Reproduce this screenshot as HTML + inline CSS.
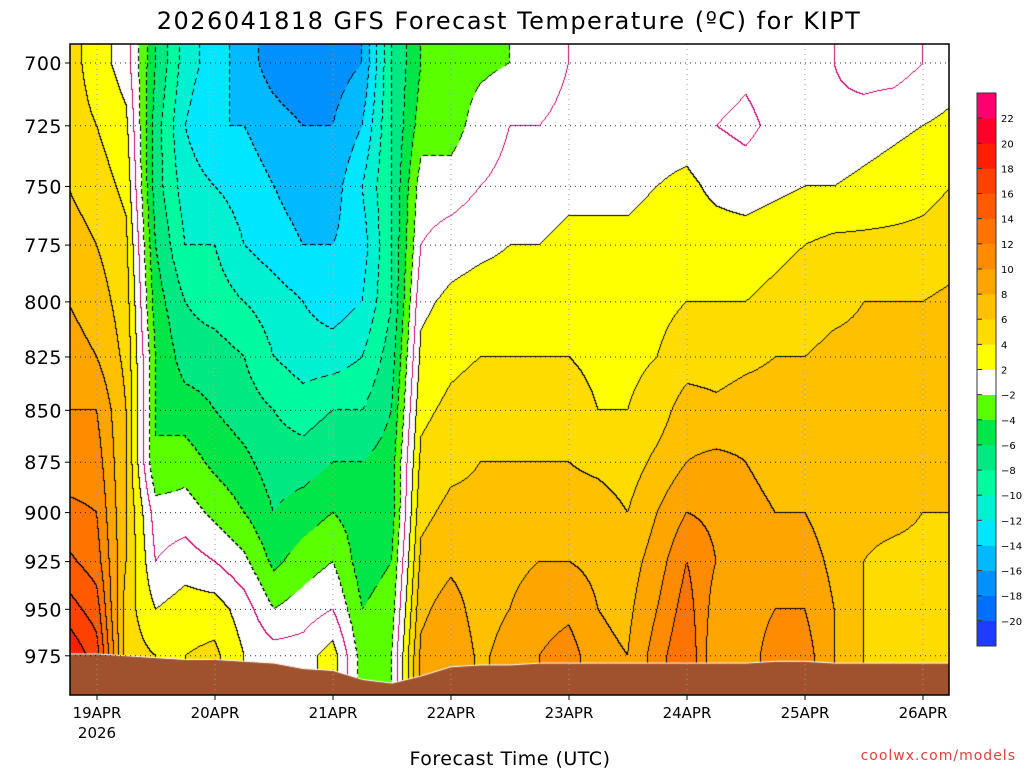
<!DOCTYPE html>
<html><head><meta charset="utf-8">
<style>
body{margin:0;background:#fff;width:1024px;height:768px;overflow:hidden;font-family:"DejaVu Sans","Liberation Sans",sans-serif;}
#wrap{position:relative;width:1024px;height:768px;}
canvas{position:absolute;left:0;top:0;}
svg{position:absolute;left:0;top:0;}
</style></head>
<body><div id="wrap">
<canvas id="cv" width="1024" height="768"></canvas>
<svg id="sv" width="1024" height="768"></svg>
</div>
<script>
const levels=[700,725,750,775,800,825,850,875,900,925,950,975];
const dayLabels=["19APR","20APR","21APR","22APR","23APR","24APR","25APR","26APR"];
const pressureTicks=[700,725,750,775,800,825,850,875,900,925,950,975];
const cbLabels=[-20,-18,-16,-14,-12,-10,-8,-6,-4,-2,2,4,6,8,10,12,14,16,18,20,22];
// temperature columns every 6h starting 18Z 18 APR, values at levels 700..975
const temps=[
[5,5,6,7,8,9,10,11,12.5,14.5,17,20],
[3,4,5,6,7,8,10,11,12,13,15,17],
[1,2.5,3.5,4.5,5,5.5,6,6,6,6,5,5],
[-6,-7,-7,-6,-5,-4,-4,-4,-1,0,2,4],
[-11,-12,-11,-10,-8,-7,-5,-3,-1,1,3,4],
[-13,-14,-12,-10,-9,-7,-6,-4.5,-2.5,0,3,4.5],
[-15,-14,-13,-12,-10,-8,-7,-5.5,-4,-1.5,1,2],
[-17,-15,-14,-13,-11,-10,-8,-7,-6,-4.5,-2,1],
[-18,-16,-15,-14,-12,-11,-9,-7,-5,-3,-1,1],
[-17,-16,-15,-14,-13,-11,-8,-6,-4,-2,0,3],
[-16,-14,-12,-13,-12,-10,-8,-6,-5,-5,-4,-3],
[-8,-8,-8,-8,-8,-7,-6,-5,-5,-4,-3,-2],
[-4,-3,-1,0,1.5,2.5,3.5,4.5,5.5,6.5,7.5,8.5],
[-3,-3,-1,1,2.5,3.5,4.5,5.5,6.5,7.5,9,10],
[-2.5,-1,0,1.5,3,4,5,6,6.5,7,7,7.5],
[-2,0,0.5,2,3,4,5,6,7,7.5,8,9],
[-1,0,1,2,3,4,5,6,7,8,9,10],
[0,0.5,1.5,2.5,3,4,5,6,7,8,9.5,11],
[0,0,1.5,2.5,3,3.5,4,5.5,7,7.5,8,8.5],
[0.5,0.5,1.5,2.5,3,3.5,4,5,6,7,7.5,8],
[1,1,2,3,3.5,4,5,6.5,8,9,10,11],
[1,1,2.5,3,4,5,7,8,10,12,13,14],
[1,0,1.5,3,4,5,6.5,8.5,9.5,10,9,8],
[0.5,-0.5,1,3,4,5.5,7,8,8.5,9,9,9],
[1,0.5,1.5,3.5,4.5,6,7,7.5,8,9,10,11],
[0.5,1,2,4,5,6,7,7.5,8,9,10,11],
[0,0.5,2,4.5,5.5,6.5,7,7,7,7.5,8,8],
[-1,1,2.5,4.5,6,6.5,7,7,6.5,6,6,6],
[-1,1.5,3,4.5,6,7,7,7,6.5,5.5,5,5],
[0,2,3.5,4.5,6,6.5,7,6.5,6,5.5,5,5],
[1,2.5,4,5,6.5,7,7,6.5,6,5.5,5,5]
];
const surfaceP=[974,974,975,976,977,977,978,979,982,983,988,990,986,981,980,980,979,979,979,979,979,979,979,979,978,978,979,979,979,979,979];

const X0=70,X1=949,Y0=44,Y1=695;
function xOfCol(i){return 67.5+i*29.5;}
function colOfX(x){return (x-67.5)/29.5;}
function yOfP(p){return 63+1789*Math.log(p/700);}
function pOfY(y){return 700*Math.exp((y-63)/1789);}
const bandColors=[[30,60,255],[0,110,255],[0,145,255],[0,185,255],[0,230,255],[0,240,210],[0,250,160],[0,232,130],[0,230,70],[90,255,0],[255,255,255],[255,255,0],[255,220,0],[255,192,0],[255,165,0],[255,140,0],[255,115,0],[255,90,0],[255,65,0],[255,30,0],[255,0,40],[255,0,110]];
function band(t){
  if(t<-20)return 0;
  if(t<-2)return 1+Math.floor((t+20)/2);
  if(t<2)return 10;
  if(t>=22)return 21;
  return 11+Math.floor((t-2)/2);
}
function tempAt(x,y){
  let c=colOfX(x); c=Math.max(0,Math.min(temps.length-1.0001,c));
  let l=(pOfY(y)-700)/25; l=Math.max(0,Math.min(levels.length-1.0001,l));
  const ci=Math.floor(c),li=Math.floor(l),fc=c-ci,fl=l-li;
  const a=temps[ci][li],b=temps[ci+1][li],d=temps[ci][li+1],e=temps[ci+1][li+1];
  return (a*(1-fc)+b*fc)*(1-fl)+(d*(1-fc)+e*fc)*fl;
}
const cv=document.getElementById('cv'),ctx=cv.getContext('2d');
ctx.fillStyle='#fff';ctx.fillRect(0,0,1024,768);
const W=X1-X0,H=Y1-Y0;
const T=new Float32Array(W*H);
for(let j=0;j<H;j++)for(let i=0;i<W;i++)T[j*W+i]=tempAt(X0+i+0.5,Y0+j+0.5);
const img=ctx.createImageData(W,H);
for(let j=0;j<H;j++)for(let i=0;i<W;i++){
  const t=T[j*W+i];let col=bandColors[band(t)];
  const k=Math.floor(t/2);
  let line=null;
  const chk=(t2)=>{const k2=Math.floor(t2/2);if(k2!==k){const lv=2*Math.max(k,k2);
    if(lv===0)line=[200,0,110];
    else if(lv<0){ if(((i+j)%8)<5) line=[0,0,0]; }
    else line=[0,0,0];}};
  if(i<W-1)chk(T[j*W+i+1]);
  if(j<H-1)chk(T[(j+1)*W+i]);
  if(line)col=line;
  const o=(j*W+i)*4;img.data[o]=col[0];img.data[o+1]=col[1];img.data[o+2]=col[2];img.data[o+3]=255;
}
ctx.putImageData(img,X0,Y0);
ctx.fillStyle='#a0522d';ctx.beginPath();ctx.moveTo(X0,Y1);
for(let i=0;i<surfaceP.length;i++){ctx.lineTo(Math.max(X0,Math.min(X1,xOfCol(i))),yOfP(surfaceP[i]));}
ctx.lineTo(X1,Y1);ctx.closePath();ctx.fill();
ctx.strokeStyle='#fff';ctx.lineWidth=1;ctx.beginPath();
for(let i=0;i<surfaceP.length;i++){const x=Math.max(X0,Math.min(X1,xOfCol(i)));const y=yOfP(surfaceP[i]);i?ctx.lineTo(x,y):ctx.moveTo(x,y);}
ctx.stroke();

const NS='http://www.w3.org/2000/svg';const sv=document.getElementById('sv');
function mk(tag,attrs,name,txt){const e=document.createElementNS(NS,tag);for(const k in attrs)e.setAttribute(k,attrs[k]);


if(txt!==undefined)e.textContent=txt;sv.appendChild(e);return e;}
pressureTicks.forEach(p=>{const y=yOfP(p);
 mk('line',{x1:X0,x2:X1,y1:y,y2:y,stroke:'#000','stroke-width':1,'stroke-dasharray':'1,4',opacity:0.8},'grid-line-'+p);
 mk('line',{x1:X0-5,x2:X0,y1:y,y2:y,stroke:'#000'},'y-tick-'+p);
 mk('text',{x:X0-8,y:y+7,'text-anchor':'end','font-size':19,fill:'#000','letter-spacing':0.5},'y-tick-label-'+p,String(p));
});
dayLabels.forEach((d,i)=>{const x=97+i*118;
 mk('line',{x1:x,x2:x,y1:Y0,y2:Y1,stroke:'#999','stroke-width':1,'stroke-dasharray':'1,4'},'day-grid-'+d);
 mk('line',{x1:x,x2:x,y1:Y1,y2:Y1+5,stroke:'#000'},'x-tick-'+d);
 mk('text',{x:x,y:718,'text-anchor':'middle','font-size':15,fill:'#000'},'x-tick-label-'+d,d);
});
mk('text',{x:97,y:738,'text-anchor':'middle','font-size':15,fill:'#000'},'x-year-label','2026');
mk('rect',{x:X0,y:Y0,width:W,height:H,fill:'none',stroke:'#000','stroke-width':1.5},'plot-frame');
mk('text',{x:509,y:29,'text-anchor':'middle','font-size':24,fill:'#000','letter-spacing':1.5},'chart-title','2026041818 GFS Forecast Temperature (ºC) for KIPT');
mk('text',{x:510,y:765,'text-anchor':'middle','font-size':19,fill:'#000','letter-spacing':0.5},'x-axis-title','Forecast Time (UTC)');
mk('text',{x:1016,y:760,'text-anchor':'end','font-size':14,fill:'#e0403f','letter-spacing':1},'source-credit','coolwx.com/models');
const cbTop=93,cbBot=646,bh=(cbBot-cbTop)/bandColors.length;
bandColors.forEach((c,i)=>{mk('rect',{x:977,y:cbBot-(i+1)*bh,width:19,height:bh+0.3,fill:`rgb(${c[0]},${c[1]},${c[2]})`},'colorbar-band-'+i);});
mk('rect',{x:977,y:cbTop,width:19,height:cbBot-cbTop,fill:'none',stroke:'#333'},'colorbar-frame');
cbLabels.forEach((v,i)=>{const y=cbBot-(i+1)*bh;
 mk('line',{x1:977,x2:982,y1:y,y2:y,stroke:'#333'},'colorbar-tick');
 mk('text',{x:1001,y:y+4,'font-size':10,fill:'#000'},'colorbar-label',(v<0?'\u2212'+(-v):String(v)));});
</script>
</body></html>
